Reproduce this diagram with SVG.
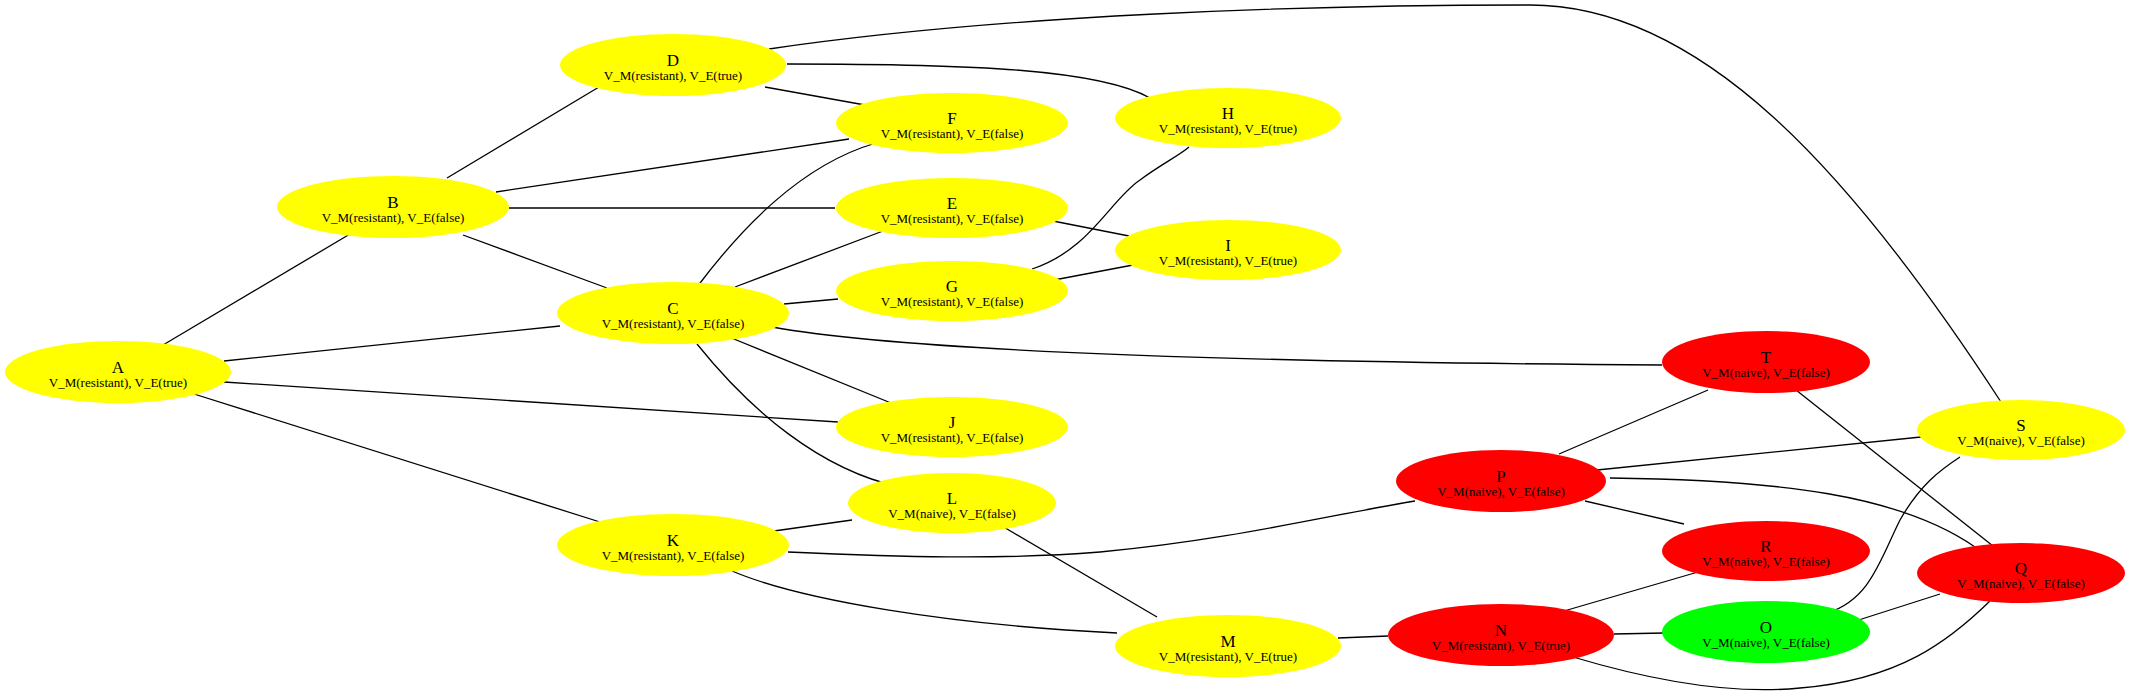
<svg xmlns="http://www.w3.org/2000/svg" width="2130" height="697" viewBox="0 0 2130 697">
<style>
.y{fill:#ffff00;stroke:none}
.r{fill:#ff0000;stroke:none}
.g{fill:#00ff00;stroke:none}
.t{font-family:"Liberation Serif","Times New Roman",serif;font-size:17px;text-anchor:middle;fill:#000}
.s{font-family:"Liberation Serif","Times New Roman",serif;font-size:13px;text-anchor:middle;fill:#000}
#edges path,#edges line{stroke:#000;stroke-width:1.3;fill:none}
</style>
<rect width="2130" height="697" fill="#fff"/>
<g id="edges">
<line x1="163" y1="345" x2="350" y2="234"/>
<line x1="224" y1="361" x2="560" y2="326"/>
<line x1="224" y1="382" x2="838" y2="422"/>
<line x1="194" y1="394" x2="600" y2="522"/>
<line x1="447" y1="178" x2="599" y2="87"/>
<line x1="496" y1="192" x2="849" y2="139"/>
<line x1="509" y1="208" x2="835" y2="208"/>
<line x1="463" y1="235" x2="607" y2="288"/>
<line x1="765" y1="87" x2="865" y2="105"/>
<path d="M787,64 C980,64 1100,70 1150,98"/>
<path d="M769,49 C1000,15 1300,5 1530,5 C1700,5 1850,170 2001,402"/>
<path d="M697,287 C740,230 800,165 876,143"/>
<line x1="735" y1="287" x2="883" y2="231"/>
<line x1="784" y1="304" x2="838" y2="299"/>
<path d="M772,327 C900,350 1200,362 1662,365"/>
<line x1="729" y1="337" x2="891" y2="403"/>
<path d="M697,344 C750,410 820,470 900,487"/>
<line x1="1053" y1="221" x2="1129" y2="236"/>
<path d="M1032,269 C1090,250 1110,200 1140,180 C1160,165 1180,155 1189,147"/>
<line x1="1054" y1="280" x2="1133" y2="265"/>
<line x1="774" y1="531" x2="852" y2="520"/>
<path d="M788,552 C900,557 1000,560 1100,552 C1230,540 1330,515 1415,501"/>
<path d="M732,571 C800,600 950,625 1117,633"/>
<line x1="1002" y1="526" x2="1157" y2="617"/>
<line x1="1338" y1="638" x2="1388" y2="636"/>
<line x1="1564" y1="611" x2="1698" y2="572"/>
<line x1="1614" y1="634" x2="1664" y2="633"/>
<path d="M1573,657 C1650,680 1730,695 1800,688 C1900,680 1950,640 1990,601"/>
<line x1="1559" y1="454" x2="1708" y2="390"/>
<line x1="1597" y1="470" x2="1921" y2="437"/>
<line x1="1585" y1="501" x2="1684" y2="524"/>
<path d="M1610,478 C1780,480 1900,495 1975,547"/>
<line x1="1796" y1="390" x2="1993" y2="546"/>
<path d="M1827,613 C1870,600 1880,560 1900,520 C1920,485 1940,470 1960,457"/>
<line x1="1843" y1="625" x2="1940" y2="594"/>
</g>
<g id="A"><ellipse class="y" cx="118" cy="372" rx="113" ry="31"/><text class="t" x="118" y="373">A</text><text class="s" x="118" y="387">V_M(resistant), V_E(true)</text></g>
<g id="B"><ellipse class="y" cx="393" cy="207" rx="116" ry="31"/><text class="t" x="393" y="208">B</text><text class="s" x="393" y="222">V_M(resistant), V_E(false)</text></g>
<g id="C"><ellipse class="y" cx="673" cy="313" rx="116" ry="31"/><text class="t" x="673" y="314">C</text><text class="s" x="673" y="328">V_M(resistant), V_E(false)</text></g>
<g id="D"><ellipse class="y" cx="673" cy="65" rx="113" ry="31"/><text class="t" x="673" y="66">D</text><text class="s" x="673" y="80">V_M(resistant), V_E(true)</text></g>
<g id="E"><ellipse class="y" cx="952" cy="208" rx="116" ry="30"/><text class="t" x="952" y="209">E</text><text class="s" x="952" y="223">V_M(resistant), V_E(false)</text></g>
<g id="F"><ellipse class="y" cx="952" cy="123" rx="116" ry="30"/><text class="t" x="952" y="124">F</text><text class="s" x="952" y="138">V_M(resistant), V_E(false)</text></g>
<g id="G"><ellipse class="y" cx="952" cy="291" rx="116" ry="30"/><text class="t" x="952" y="292">G</text><text class="s" x="952" y="306">V_M(resistant), V_E(false)</text></g>
<g id="H"><ellipse class="y" cx="1228" cy="118" rx="113" ry="30"/><text class="t" x="1228" y="119">H</text><text class="s" x="1228" y="133">V_M(resistant), V_E(true)</text></g>
<g id="I"><ellipse class="y" cx="1228" cy="250" rx="113" ry="30"/><text class="t" x="1228" y="251">I</text><text class="s" x="1228" y="265">V_M(resistant), V_E(true)</text></g>
<g id="J"><ellipse class="y" cx="952" cy="427" rx="116" ry="30"/><text class="t" x="952" y="428">J</text><text class="s" x="952" y="442">V_M(resistant), V_E(false)</text></g>
<g id="K"><ellipse class="y" cx="673" cy="545" rx="116" ry="31"/><text class="t" x="673" y="546">K</text><text class="s" x="673" y="560">V_M(resistant), V_E(false)</text></g>
<g id="L"><ellipse class="y" cx="952" cy="503" rx="104" ry="30"/><text class="t" x="952" y="504">L</text><text class="s" x="952" y="518">V_M(naive), V_E(false)</text></g>
<g id="M"><ellipse class="y" cx="1228" cy="646" rx="113" ry="31"/><text class="t" x="1228" y="647">M</text><text class="s" x="1228" y="661">V_M(resistant), V_E(true)</text></g>
<g id="N"><ellipse class="r" cx="1501" cy="635" rx="113" ry="31"/><text class="t" x="1501" y="636">N</text><text class="s" x="1501" y="650">V_M(resistant), V_E(true)</text></g>
<g id="O"><ellipse class="g" cx="1766" cy="632" rx="104" ry="31"/><text class="t" x="1766" y="633">O</text><text class="s" x="1766" y="647">V_M(naive), V_E(false)</text></g>
<g id="P"><ellipse class="r" cx="1501" cy="481" rx="105" ry="31"/><text class="t" x="1501" y="482">P</text><text class="s" x="1501" y="496">V_M(naive), V_E(false)</text></g>
<g id="Q"><ellipse class="r" cx="2021" cy="573" rx="104" ry="30"/><text class="t" x="2021" y="574">Q</text><text class="s" x="2021" y="588">V_M(naive), V_E(false)</text></g>
<g id="R"><ellipse class="r" cx="1766" cy="551" rx="104" ry="30"/><text class="t" x="1766" y="552">R</text><text class="s" x="1766" y="566">V_M(naive), V_E(false)</text></g>
<g id="S"><ellipse class="y" cx="2021" cy="430" rx="104" ry="30"/><text class="t" x="2021" y="431">S</text><text class="s" x="2021" y="445">V_M(naive), V_E(false)</text></g>
<g id="T"><ellipse class="r" cx="1766" cy="362" rx="104" ry="31"/><text class="t" x="1766" y="363">T</text><text class="s" x="1766" y="377">V_M(naive), V_E(false)</text></g>
</svg>
